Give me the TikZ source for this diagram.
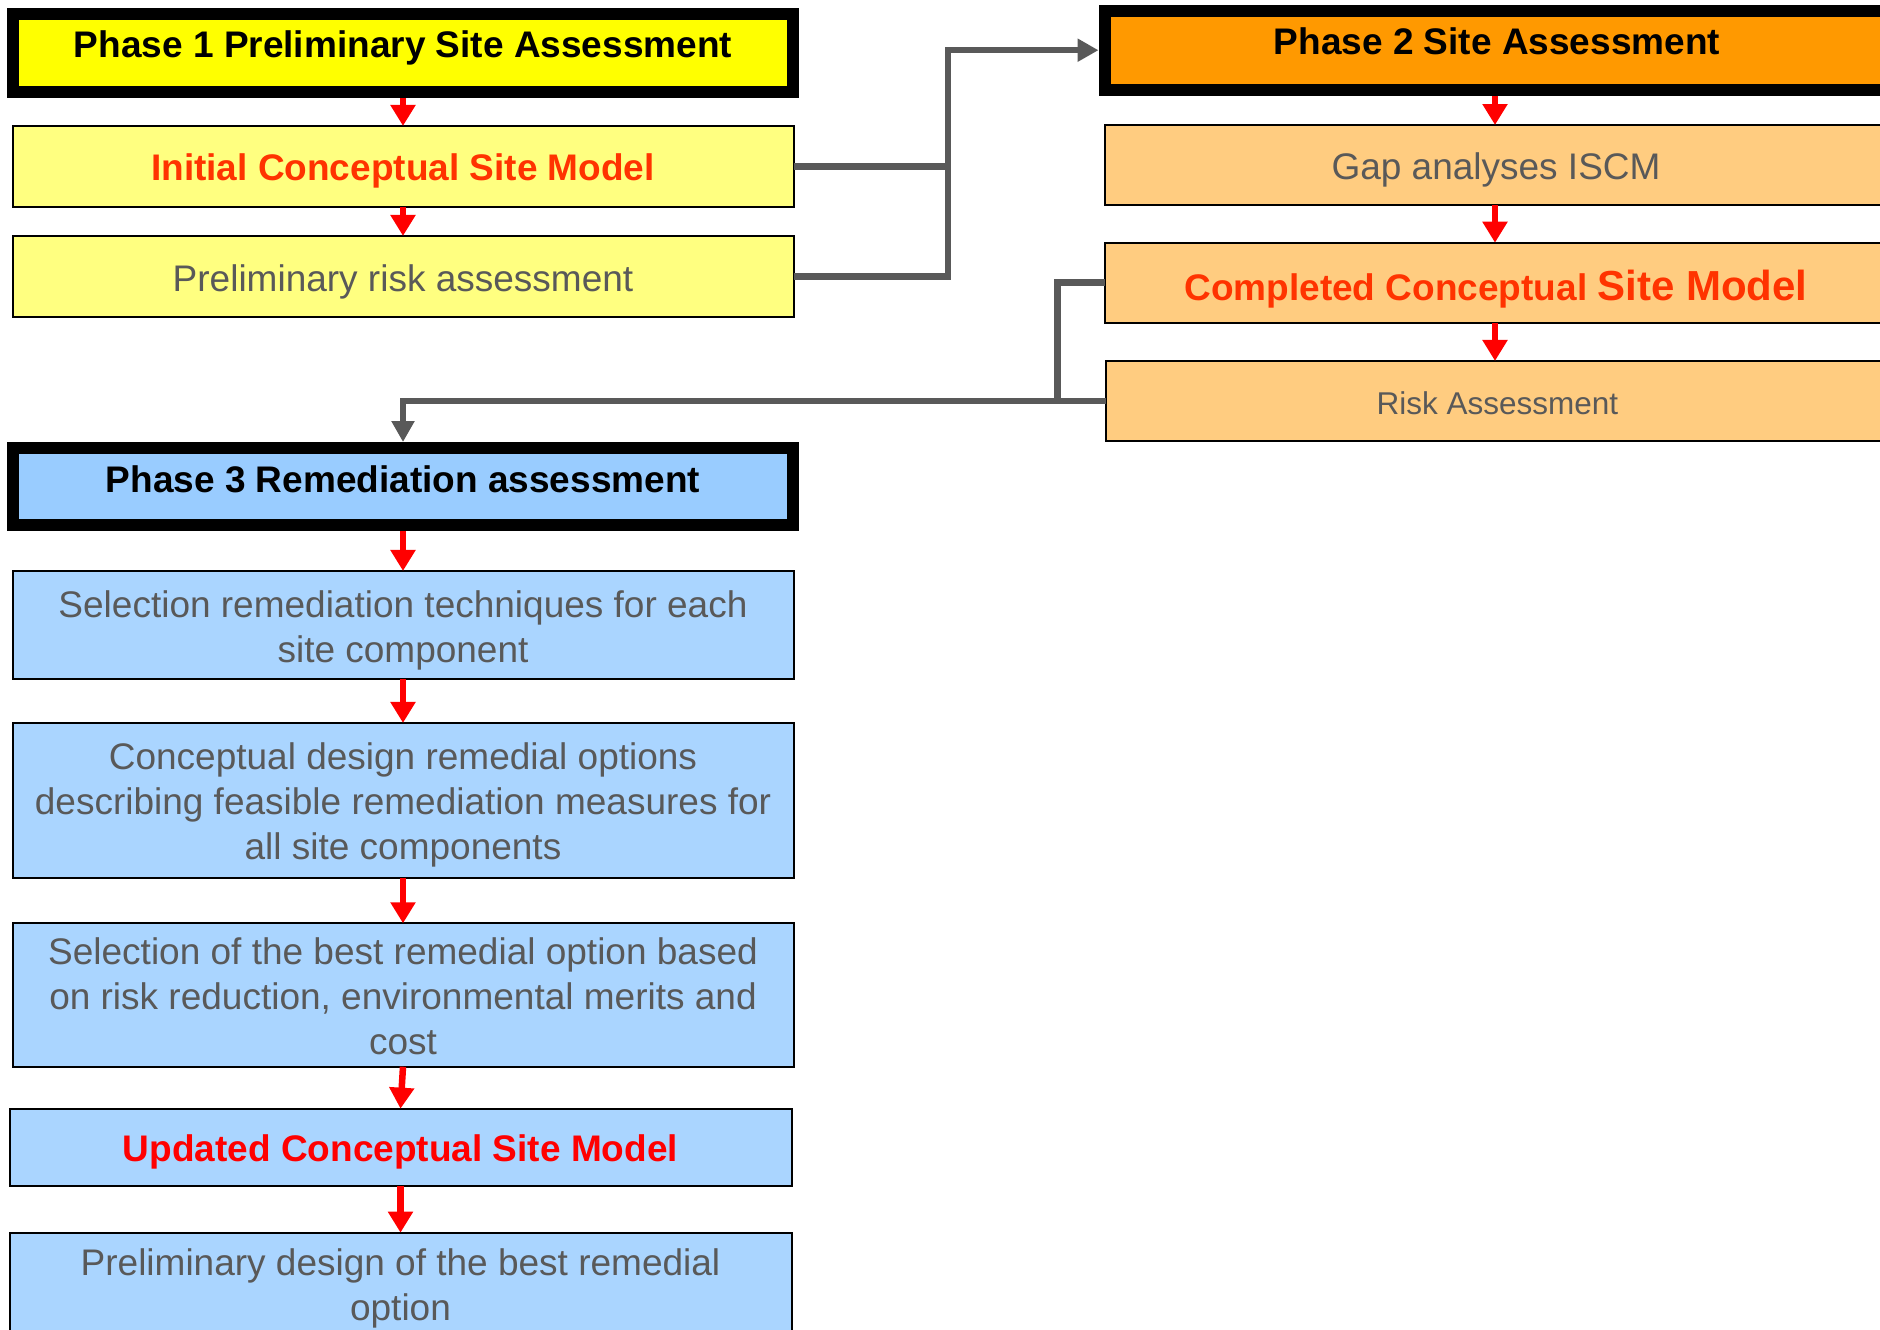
\documentclass[tikz,border=0pt]{standalone}
\usepackage{fontspec}
\setmainfont{Liberation Sans}
\usetikzlibrary{arrows.meta}
\definecolor{pyellow}{HTML}{FFFF00}
\definecolor{lyellow}{HTML}{FFFF80}
\definecolor{porange}{HTML}{FF9900}
\definecolor{lorange}{HTML}{FFCC80}
\definecolor{pblue}{HTML}{99CCFF}
\definecolor{lblue}{HTML}{AAD5FF}
\definecolor{txtgray}{HTML}{595959}
\definecolor{linegray}{HTML}{595959}
\definecolor{hired}{HTML}{FF3300}
\newcommand\topstrut{\rule{0pt}{37pt}}
\newcommand\lowstrut{\rule{0pt}{30pt}}
\begin{document}
\begin{tikzpicture}[x=1pt,y=-1pt,
  phasebox/.style={draw=black, line width=12pt, minimum width=780pt, minimum height=78pt,
    inner sep=0pt, outer sep=0pt, text=black,
    font=\fontsize{37}{45}\selectfont\bfseries, text height=29pt, text depth=20pt},
  mbox/.style={draw=black, line width=2pt, minimum width=781pt,
    inner sep=0pt, outer sep=0pt, align=center, text=txtgray,
    font=\fontsize{37}{45}\selectfont},
  sbox/.style={mbox, text height=29pt, text depth=1pt},
  redarrow/.style={draw=red, line width=6.5pt, -{Triangle[width=24pt,length=21pt]}},
  grayarrow/.style={draw=linegray, line width=6.5pt, -{Triangle[width=22pt,length=21pt]}},
  grayline/.style={draw=linegray, line width=6.5pt}]
\useasboundingbox (0,0) rectangle (1880,1330);
\fill[white] (0,0) rectangle (1880,1330);
\clip (0,0) rectangle (1880,1330);

% Phase 1 column
\node[phasebox, fill=pyellow] (p1) at (403,53) {Phase 1 Preliminary Site Assessment};
\node[sbox, fill=lyellow, minimum height=80.7pt, text=hired, font=\fontsize{37}{45}\selectfont\bfseries] (icsm) at (403,166.3) {Initial Conceptual Site Model};
\node[sbox, fill=lyellow, minimum height=80.7pt, text height=31pt] (prra) at (403,276.3) {Preliminary risk assessment};

% Phase 2 column
\node[phasebox, fill=porange, minimum width=784pt, minimum height=79pt] (p2) at (1497,50.2) {Phase 2 Site Assessment};
\node[sbox, fill=lorange, minimum width=783pt, minimum height=80pt] (gap) at (1496,165) {Gap analyses ISCM};
\node[sbox, fill=lorange, minimum width=783pt, minimum height=80pt, text height=37pt, text=hired, font=\fontsize{37}{45}\selectfont\bfseries] (ccsm) at (1496,282.7) {Completed Conceptual {\fontsize{42}{45}\selectfont Site Model}};
\node[sbox, fill=lorange, minimum width=783pt, minimum height=79.7pt, font=\fontsize{31.5}{40}\selectfont] (ra) at (1497.5,400.8) {Risk Assessment};

% Phase 3 column
\node[phasebox, fill=pblue, minimum height=77pt, text depth=17pt] (p3) at (403,486.5) {Phase 3 Remediation assessment};
\node[mbox, fill=lblue, minimum height=108.3pt] (sel) at (403,625.1) {\topstrut Selection remediation techniques for each\\site component};
\node[mbox, fill=lblue, minimum height=154.7pt] (cdo) at (403,800.3) {\topstrut Conceptual design remedial options\\describing feasible remediation measures for\\all site components};
\node[mbox, fill=lblue, minimum height=143.4pt] (best) at (403,995) {\lowstrut Selection of the best remedial option based\\on risk reduction, environmental merits and\\cost};
\node[sbox, fill=lblue, minimum width=782pt, minimum height=77.3pt, text=red, font=\fontsize{37}{45}\selectfont\bfseries] (upd) at (400.5,1147.3) {Updated Conceptual Site Model};
\node[mbox, fill=lblue, minimum width=782pt, minimum height=108.3pt] (pdes) at (400.5,1286.8) {\lowstrut Preliminary design of the best remedial\\option};

% helper coordinates
\coordinate (ax) at (1495,0);
\coordinate (jx) at (948,0);
\coordinate (jy) at (1057.3,0);

% red arrows, left column
\draw[redarrow, shorten <=6pt] (p1.south) -- (p1.south |- icsm.north);
\draw[redarrow] (icsm.south) -- (prra.north);
\draw[redarrow, shorten <=6pt] (p3.south) -- (p3.south |- sel.north);
\draw[redarrow] (sel.south) -- (cdo.north);
\draw[redarrow] (cdo.south) -- (best.north);
\draw[redarrow] (best.south) -- (upd.north);
\draw[redarrow] (upd.south) -- (pdes.north);

% red arrows, right column
\draw[redarrow, shorten <=6pt] (ax |- p2.south) -- (ax |- gap.north);
\draw[redarrow] (ax |- gap.south) -- (ax |- ccsm.north);
\draw[redarrow] (ax |- ccsm.south) -- (ax |- ra.north);

% gray connectors
\draw[grayarrow, shorten >=6.5pt] (icsm.east) -| (jx |- p2.west) -- (p2.west);
\draw[grayline] (prra.east) -| (jx |- icsm.east);
\draw[grayarrow, shorten >=6pt] (ccsm.west) -| (jy |- ra.west) -- (p3.north |- ra.west) -- (p3.north);
\draw[grayline] (ra.west) -- (jy |- ra.west);
\end{tikzpicture}
\end{document}
